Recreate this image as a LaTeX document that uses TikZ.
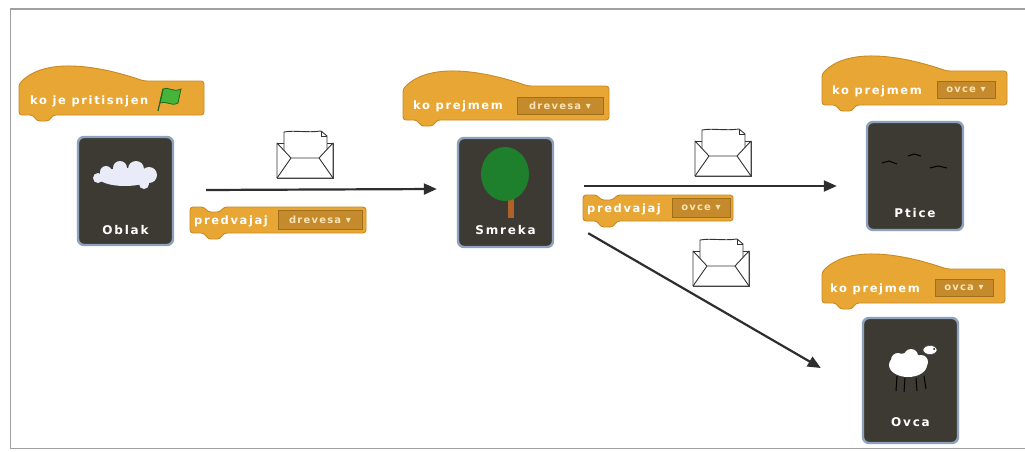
\documentclass[tikz,border=0pt]{standalone}
\usepackage{fontspec}
\usetikzlibrary{arrows.meta,calc}
\newfontfamily\blockfont[LetterSpace=14]{DejaVu Sans Bold}
\newfontfamily\insetfont[LetterSpace=12]{DejaVu Sans Bold}
\newfontfamily\spritefont[LetterSpace=15]{DejaVu Sans Bold}
\definecolor{blockorange}{HTML}{E8A634}
\definecolor{blockedge}{HTML}{C98A22}
\definecolor{insetfill}{HTML}{C48A2C}
\definecolor{insettext}{HTML}{FBE3B5}
\definecolor{tilefill}{HTML}{3D3A33}
\definecolor{tileedge}{HTML}{8EA2BE}
\definecolor{arrowcol}{HTML}{2E2E2E}
\definecolor{framecol}{HTML}{A0A0A0}
\definecolor{cloudwhite}{HTML}{E9ECF8}
\definecolor{treegreen}{HTML}{1E7F2C}
\definecolor{trunkbrown}{HTML}{B0602A}
\definecolor{flaggreen}{HTML}{45B53A}
\definecolor{flagdark}{HTML}{1F6A1F}

\tikzset{
  blockshape/.style={fill=blockorange, draw=blockedge, line width=0.9pt, rounded corners=3pt},
  blocktext/.style={font=\blockfont\fontsize{11.5}{12}\selectfont, text=white, inner sep=0pt, anchor=base west},
  menubox/.style={fill=insetfill, draw=blockedge!80!black, line width=0.5pt, inner sep=0pt,
    font=\insetfont\fontsize{10}{11}\selectfont, text=insettext},
  tile/.style={fill=tilefill, draw=tileedge, line width=2.4pt, rounded corners=6pt, inner sep=0pt},
  tilelabel/.style={font=\spritefont\fontsize{12}{13}\selectfont, text=white, inner sep=0pt},
  flow/.style={draw=arrowcol, line width=2.2pt, -{Triangle[length=13pt,width=11pt]}},
  envline/.style={draw=black!80, line width=0.9pt, fill=white, line join=round},
}

% hat block: left edge, right edge, text centre line
\newcommand{\hatblock}[3]{%
  \path[blockshape] (#1,{#3-16})
    .. controls ({#1+25},{#3-42}) and ({#1+75},{#3-36}) .. ({#1+125},{#3-19})
    -- (#2,{#3-19}) -- (#2,{#3+15}) -- ({#1+34},{#3+15}) -- ({#1+30},{#3+21})
    -- ({#1+18},{#3+21}) -- ({#1+14},{#3+15}) -- (#1,{#3+15}) -- cycle;}

% stack block with notch on top and tab below
\newcommand{\stackblock}[3]{%
  \path[blockshape] (#1,{#3-13}) -- ({#1+14},{#3-13}) -- ({#1+18},{#3-8})
    -- ({#1+30},{#3-8}) -- ({#1+34},{#3-13}) -- (#2,{#3-13}) -- (#2,{#3+13})
    -- ({#1+34},{#3+13}) -- ({#1+30},{#3+19}) -- ({#1+18},{#3+19})
    -- ({#1+14},{#3+13}) -- (#1,{#3+13}) -- cycle;}

% open envelope with a letter, top-left corner given
\newcommand{\envelope}[2]{%
  \begin{scope}[shift={(#1,#2)}]
    \path[envline] (0,13) rectangle (56,48);
    \path[envline] (7,2) .. controls (18,0) and (30,3) .. (44,1) -- (50,6) -- (50,34) -- (7,34) -- cycle;
    \draw[black!80, line width=0.7pt] (44,1) -- (44,6) -- (50,6);
    \path[envline] (0,13) -- (14,28) -- (42,28) -- (56,13) -- (56,48) -- (0,48) -- cycle;
    \draw[black!80, line width=0.9pt] (0,48) -- (14,28) (56,48) -- (42,28);
  \end{scope}}

\begin{document}
\begin{tikzpicture}[x=1pt,y=-1pt]
  \useasboundingbox (0,0) rectangle (1025,452);
  \fill[white] (0,0) rectangle (1025,452);
  \draw[framecol, line width=1.8pt] (1026,9) -- (10.5,9) -- (10.5,448.5) -- (1026,448.5);

  % ---- script blocks ----
  \hatblock{19}{204}{100}
  \node[blocktext] (h1text) at (30,104) {ko je pritisnjen};
  \filldraw[fill=flaggreen, draw=flagdark, line width=0.8pt]
    (163,89) .. controls (168,86) and (173,93) .. (181,89) -- (178,103)
    .. controls (171,107) and (166,100) .. (160,103) -- cycle;
  \draw[flagdark, line width=1.2pt] (163,89) -- (158,111);

  \hatblock{403}{609}{105}
  \node[blocktext] (h2text) at (413,109) {ko prejmem};
  \node[menubox, minimum width=86pt, minimum height=17pt] (h2menu) at (560,105.5) {drevesa ▾};

  \hatblock{822}{1007}{90}
  \node[blocktext] (h3text) at (832,94) {ko prejmem};
  \node[menubox, minimum width=58pt, minimum height=17pt] (h3menu) at (966,90) {ovce ▾};

  \hatblock{822}{1005}{288}
  \node[blocktext] (h4text) at (830,292) {ko prejmem};
  \node[menubox, minimum width=58pt, minimum height=17pt] (h4menu) at (964,288) {ovca ▾};

  \stackblock{190}{366}{220}
  \node[blocktext] (b1text) at (194,224) {predvajaj};
  \node[menubox, minimum width=84pt, minimum height=19pt] (b1menu) at (320,219.5) {drevesa ▾};

  \stackblock{583}{733}{208}
  \node[blocktext] (b2text) at (587,212) {predvajaj};
  \node[menubox, minimum width=58pt, minimum height=19pt] (b2menu) at (701,207.5) {ovce ▾};

  % ---- sprite tiles ----
  \node[tile, minimum width=95pt, minimum height=108pt] (oblak) at (125.5,191) {};
  \fill[cloudwhite] (125,177) ellipse (27pt and 9pt)
    (106,172) circle (6pt) (120,168) circle (7pt) (136,169) circle (8pt)
    (149,175) circle (8pt) (144,184) circle (5pt) (98,178) circle (5pt);
  \node[tilelabel] (oblaklabel) at (125.5,230) {Oblak};

  \node[tile, minimum width=95pt, minimum height=109pt] (smreka) at (505.5,192.5) {};
  \fill[trunkbrown] (508,194) rectangle (514,218);
  \fill[treegreen] (505,174) ellipse (24pt and 27pt);
  \node[tilelabel] (smrekalabel) at (505.5,230) {Smreka};

  \node[tile, minimum width=96pt, minimum height=108pt] (ptice) at (915,176) {};
  \draw[black, line width=1pt] (882,163) -- (889,161) -- (897,164)
    (908,156) -- (914,154) -- (921,156) (930,168) -- (938,166) -- (947,168);
  \node[tilelabel] (pticelabel) at (915,213) {Ptice};

  \node[tile, minimum width=95pt, minimum height=125pt] (ovca) at (910.5,380.5) {};
  \draw[black, line width=1pt] (897,376) -- (896,391) (905,378) -- (904,392)
    (916,378) -- (917,391) (924,376) -- (926,389);
  \fill[white] (908,365) ellipse (19pt and 12pt)
    (898,360) circle (7pt) (911,356) circle (7pt) (921,362) circle (7pt);
  \filldraw[fill=white, draw=black!70, line width=0.6pt] (930,350) ellipse (7pt and 4.5pt);
  \fill[black] (934,349) circle (1pt);
  \node[tilelabel] (ovcalabel) at (910.5,422) {Ovca};

  % ---- message arrows ----
  \draw[flow] ($(oblak.east)+(32,-1)$) -- ($(smreka.west)+(-20,-3.5)$);
  \draw[flow] ($(smreka.east)+(30,-6.5)$) -- ($(ptice.west)+(-29,10)$);
  \draw[flow] ($(smreka.south east)+(34,-15)$) -- ($(ovca.west)+(-41,-12.5)$);

  \envelope{277}{130}
  \envelope{695}{128}
  \envelope{693}{238}
\end{tikzpicture}
\end{document}
